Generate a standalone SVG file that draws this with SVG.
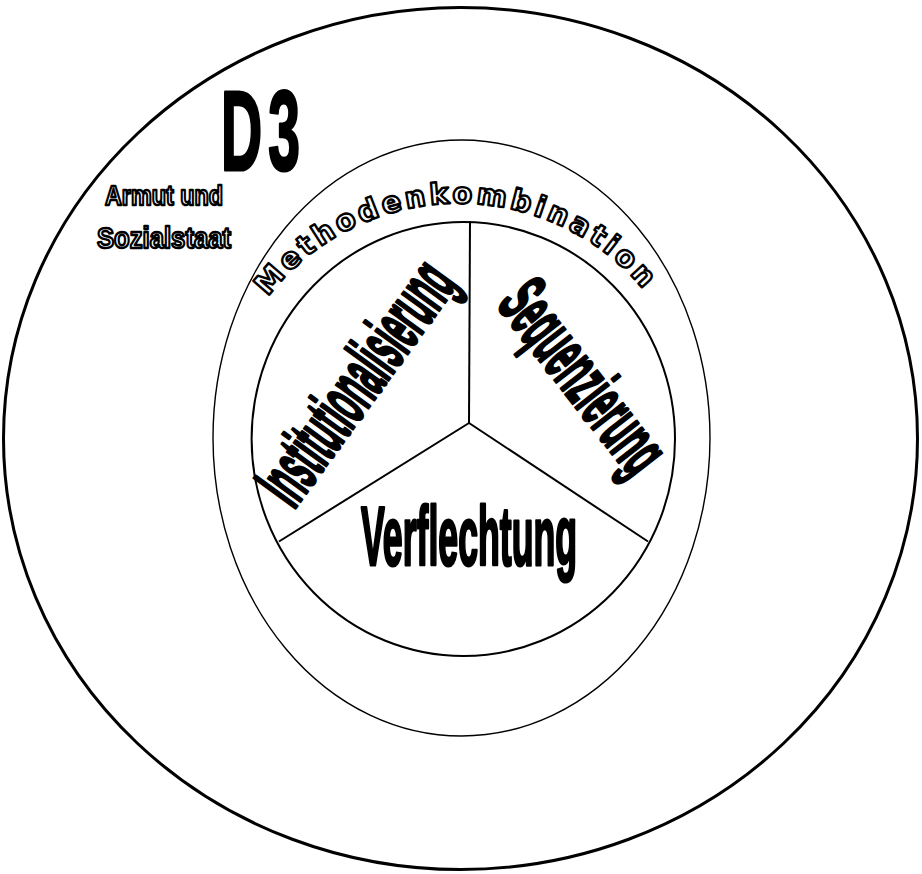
<svg xmlns="http://www.w3.org/2000/svg" width="922" height="874" viewBox="0 0 922 874">
  <style>
    .ring { fill: none; stroke: #000; }
    .heavy { font-family: "Liberation Sans", Arial, sans-serif; font-weight: bold; fill: #000; stroke: #000; stroke-width: 3.2; stroke-linejoin: round; }
    .hollow { font-family: "Liberation Sans", Arial, sans-serif; font-weight: bold; fill: #fff; stroke: #000; stroke-width: 2.4; stroke-linejoin: round; }
    .arcword { font-family: "DejaVu Sans", "Liberation Sans", sans-serif; font-weight: bold; fill: #fff; stroke: #000; stroke-width: 2.4; stroke-linejoin: round; }
  </style>
  <defs>
    <path id="arc" d="M268,297 A238,233 0 0,1 648,295"/>
  </defs>
  <rect width="922" height="874" fill="#fff"/>

  <g id="outer-circle">
    <ellipse class="ring" cx="460.5" cy="438.5" rx="457" ry="431" stroke-width="3"/>
    <text class="heavy" transform="translate(221,170) scale(0.5,1)" font-size="114" stroke-width="6" letter-spacing="12">D3</text>
    <text class="hollow" x="105" y="205" font-size="28" textLength="118" lengthAdjust="spacingAndGlyphs">Armut und</text>
    <text class="hollow" x="97" y="248" font-size="29" textLength="134" lengthAdjust="spacingAndGlyphs">Sozialstaat</text>
  </g>

  <g id="middle-circle">
    <ellipse class="ring" cx="461.5" cy="438" rx="248.5" ry="298" stroke-width="1.4"/>
    <text class="arcword" font-size="29">
      <textPath href="#arc" textLength="430" lengthAdjust="spacing">Methodenkombination</textPath>
    </text>
  </g>

  <g id="inner-circle">
    <ellipse class="ring" cx="463.3" cy="439" rx="211.7" ry="217" stroke-width="2"/>
  </g>

  <g id="connectors" stroke="#000" stroke-width="2" fill="none">
    <line x1="470" y1="221" x2="469" y2="423"/>
    <line x1="469" y1="423" x2="279" y2="541.5"/>
    <line x1="469" y1="423" x2="648" y2="541.5"/>
  </g>

  <g id="institutionalisierung">
    <text class="heavy" text-anchor="middle" font-size="74" textLength="280" lengthAdjust="spacingAndGlyphs" transform="translate(376,397) rotate(-54)">Institutionalisierung</text>
  </g>
  <g id="sequenzierung">
    <text class="heavy" text-anchor="middle" font-size="74" textLength="222" lengthAdjust="spacingAndGlyphs" transform="translate(564,392) rotate(52)">Sequenzierung</text>
  </g>
  <g id="verflechtung">
    <text class="heavy" x="361" y="565" font-size="84" textLength="216" lengthAdjust="spacingAndGlyphs">Verflechtung</text>
  </g>
</svg>
